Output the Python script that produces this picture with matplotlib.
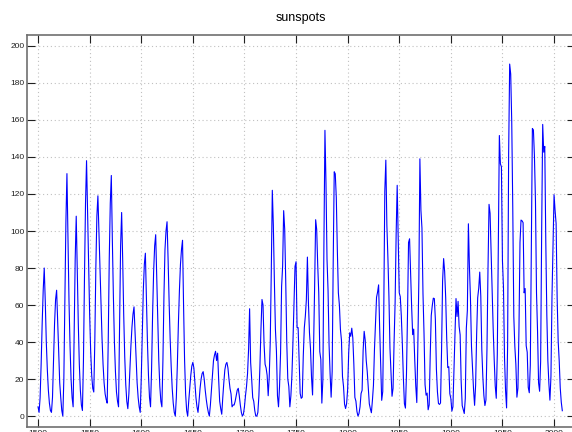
import numpy as np
import matplotlib
matplotlib.use("Agg")
import matplotlib.pyplot as plt

plt.rcParams['font.family'] = ['Liberation Sans', 'DejaVu Sans']

title = "sunspots"

# yearly values 1500-1699
early_years = list(range(1500, 1700))
early_values = [
    5, 2, 10, 28, 50, 68, 80, 62, 40, 25,
    14, 7, 3, 2, 10, 30, 50, 63, 68, 52,
    35, 18, 10, 3, 0, 20, 62, 105, 131, 95,
    62, 38, 20, 10, 5, 45, 85, 108, 80, 50,
    28, 14, 6, 3, 30, 75, 115, 138, 110, 80,
    55, 35, 22, 15, 13, 40, 80, 108, 119, 100,
    80, 60, 42, 28, 18, 12, 9, 7, 40, 85,
    115, 130, 95, 65, 40, 24, 13, 8, 5, 50,
    92, 110, 85, 55, 32, 17, 8, 4, 12, 25,
    38, 48, 55, 59, 45, 30, 18, 10, 5, 2,
    20, 45, 68, 82, 88, 65, 40, 22, 10, 5,
    25, 55, 78, 92, 98, 75, 50, 30, 16, 8,
    5, 30, 65, 90, 100, 105, 85, 62, 42, 27,
    15, 7, 2, 0, 10, 28, 50, 68, 82, 90,
    95, 60, 30, 12, 3, 0, 8, 15, 22, 27,
    29, 26, 18, 10, 5, 2, 8, 15, 20, 23,
    24, 20, 14, 9, 5, 2, 0, 6, 14, 22,
    30, 33, 35, 30, 34, 20, 8, 4, 1, 10,
    18, 25, 28, 29, 26, 20, 15, 12, 5, 6,
    6, 8, 11, 14, 15, 11, 6, 2, 0, 1,
]

# yearly values 1700-2008
late_years = list(range(1700, 2009))
late_values = [
    5, 11, 16, 23, 36, 58, 29, 20, 10, 8,
    3, 0, 0, 2, 11, 27, 47, 63, 60, 39,
    28, 26, 22, 11, 21, 40, 78, 122, 103, 73,
    47, 35, 11, 5, 16, 34, 70, 81, 111, 101,
    73, 40, 20, 16, 5, 11, 22, 40, 60, 80.9,
    83.4, 47.7, 47.8, 30.7, 12.2, 9.6, 10.2, 32.4, 47.6, 54.0,
    62.9, 85.9, 61.2, 45.1, 36.4, 20.9, 11.4, 37.8, 69.8, 106.1,
    100.8, 81.6, 66.5, 34.8, 30.6, 7.0, 19.8, 92.5, 154.4, 125.9,
    84.8, 68.1, 38.5, 22.8, 10.2, 24.1, 82.9, 132.0, 130.9, 118.1,
    89.9, 66.6, 60.0, 46.9, 41.0, 21.3, 16.0, 6.4, 4.1, 6.8,
    14.5, 34.0, 45.0, 43.1, 47.5, 42.2, 28.1, 10.1, 8.1, 2.5,
    0.0, 1.4, 5.0, 12.2, 13.9, 35.4, 45.8, 41.1, 30.1, 23.9,
    15.6, 6.6, 4.0, 1.8, 8.5, 16.6, 36.3, 49.6, 64.2, 67.0,
    70.9, 47.8, 27.5, 8.5, 13.2, 56.9, 121.5, 138.3, 103.2, 85.7,
    64.6, 36.7, 24.2, 10.7, 15.0, 40.1, 61.5, 98.5, 124.7, 96.3,
    66.6, 64.5, 54.1, 39.0, 20.6, 6.7, 4.3, 22.7, 54.8, 93.8,
    95.8, 77.2, 59.1, 44.0, 47.0, 30.5, 16.3, 7.3, 37.6, 74.0,
    139.0, 111.2, 101.6, 66.2, 44.7, 17.0, 11.3, 12.4, 3.4, 6.0,
    32.3, 54.3, 59.7, 63.7, 63.5, 52.2, 25.4, 13.1, 6.8, 6.3,
    7.1, 35.6, 73.0, 85.1, 78.0, 64.0, 41.8, 26.2, 26.7, 12.1,
    9.5, 2.7, 5.0, 24.4, 42.0, 63.5, 53.8, 62.0, 48.5, 43.9,
    18.6, 5.7, 3.6, 1.4, 9.6, 47.4, 57.1, 103.9, 80.6, 63.6,
    37.6, 26.1, 14.2, 5.8, 16.7, 44.3, 63.9, 69.0, 77.8, 64.9,
    35.7, 21.2, 11.1, 5.7, 8.7, 36.1, 79.7, 114.4, 109.6, 88.8,
    67.8, 47.5, 30.6, 16.3, 9.6, 33.2, 92.6, 151.6, 136.3, 134.7,
    83.9, 69.4, 31.5, 13.9, 4.4, 38.0, 141.7, 190.2, 184.8, 159.0,
    112.3, 53.9, 37.6, 27.9, 10.2, 15.1, 47.0, 93.8, 105.9, 105.5,
    104.5, 66.6, 68.9, 38.0, 34.5, 15.5, 12.6, 27.5, 92.5, 155.4,
    154.6, 140.4, 115.9, 66.6, 45.9, 17.9, 13.4, 29.4, 100.2, 157.6,
    142.6, 145.7, 94.3, 54.6, 29.9, 17.5, 8.6, 21.5, 64.3, 93.3,
    119.6, 111.0, 104.0, 63.7, 40.4, 29.8, 15.2, 7.5, 2.9,
]

x_ticks = [1500, 1550, 1600, 1650, 1700, 1750, 1800, 1850, 1900, 1950, 2000]
y_ticks = [0, 20, 40, 60, 80, 100, 120, 140, 160, 180, 200]

years = np.array(early_years + late_years)
values = np.array(early_values + late_values, dtype=float)

fig = plt.figure(figsize=(5.72, 4.32), dpi=100)
ax = fig.add_axes([27 / 572, (432 - 427) / 432, (575 - 27) / 572, (427 - 35) / 432])

ax.plot(years, values, color='#0000ff', lw=0.8)

ax.set_xlim(1489.3, 2020.3)
ax.set_ylim(-5.9, 205.9)
ax.set_xticks(x_ticks)
ax.set_yticks(y_ticks)
ax.grid(True, linestyle=(0, (1, 2.5)), color='#c0c0c0', linewidth=0.8)

ax.tick_params(direction='in', length=5.8, width=0.8, color='#202020',
               labelsize=6, labelcolor='#202020', pad=2,
               top=True, right=True)
for sp in ax.spines.values():
    sp.set_color('#707070')
    sp.set_linewidth(1.2)

ax.set_title(title, fontsize=9, pad=10)

fig.savefig('out.png', dpi=100)
